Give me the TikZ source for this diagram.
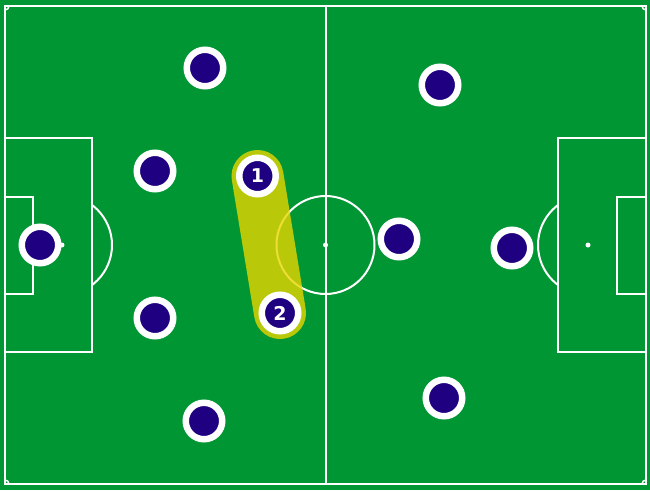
\documentclass[tikz,border=0pt]{standalone}
\usepackage{fontspec}
\newfontfamily\numfont{DejaVu Sans}
\usetikzlibrary{positioning}
\definecolor{pitchgreen}{RGB}{0,150,52}
\definecolor{shirtblue}{RGB}{30,0,128}
\definecolor{zoneyellow}{RGB}{232,214,0}

\begin{document}
\begin{tikzpicture}[x=1pt, y=-1pt,
    pitchline/.style={draw=white, line width=2pt},
    player/.style={circle, fill=shirtblue, draw=white, line width=6.5pt, minimum size=36.5pt, inner sep=0pt, text=white, font=\numfont\bfseries\fontsize{19}{19}\selectfont},
    link/.style={draw=zoneyellow, line width=52pt, line cap=round, opacity=0.8},
]
\useasboundingbox (0,0) rectangle (650,490);
\fill[pitchgreen] (0,0) rectangle (650,490);

% pitch
\draw[pitchline] (5,6) rectangle (646,484);
\draw[pitchline] (325.5,6) -- (325.5,484);
\draw[pitchline] (325.5,245) circle[radius=49pt];
\fill[white] (325.5,245) circle[radius=2.5pt];
\begin{scope}
\clip (5,6) rectangle (646,484);
\foreach \cx/\cy in {5/6, 646/6, 5/484, 646/484}
    \draw[pitchline, line width=1.5pt] (\cx,\cy) circle[radius=4pt];
\end{scope}
% left end
\draw[pitchline] (5,138) rectangle (92,352);
\draw[pitchline] (5,197) rectangle (33,294);
\fill[white] (62,245) circle[radius=2.5pt];
\begin{scope}
\clip (92,0) rectangle (200,490);
\draw[pitchline] (62,245) circle[radius=50pt];
\end{scope}
% right end
\draw[pitchline] (558,138) rectangle (646,352);
\draw[pitchline] (617,197) rectangle (646,294);
\fill[white] (588,245) circle[radius=2.5pt];
\begin{scope}
\clip (450,0) rectangle (558,490);
\draw[pitchline] (588,245) circle[radius=50pt];
\end{scope}

% passing zone
\coordinate (c1) at (257.5,176);
\coordinate (c2) at (280,313);
\draw[link] (c1) -- (c2);

% players
\node[player] (keeper) at (40,245) {};
\node[player] (leftA) at (205,68) {};
\node[player] (leftB) at (155,171) {};
\node[player] (leftC) at (155,318) {};
\node[player] (leftD) at (204,421) {};
\node[player] (mate1) at (c1) {1};
\node[player] (mate2) at (c2) {2};
\node[player] (rightA) at (440,85) {};
\node[player] (rightB) at (399,239) {};
\node[player] (rightC) at (512,248) {};
\node[player] (rightD) at (444,398) {};
\end{tikzpicture}
\end{document}
